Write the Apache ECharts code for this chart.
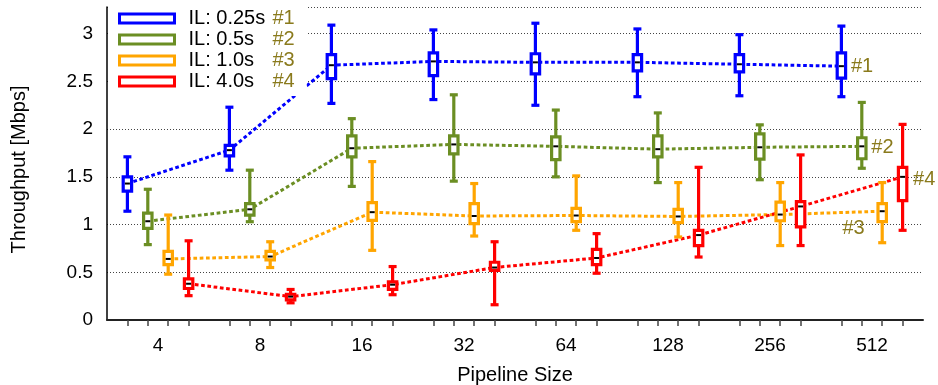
<!DOCTYPE html>
<html>
<head>
<meta charset="utf-8">
<title>Throughput vs Pipeline Size</title>
<script src="https://cdn.jsdelivr.net/npm/echarts@6/dist/echarts.min.js"></script>
<style>
  html, body { margin: 0; padding: 0; background: #fff; }
  #chart { width: 938px; height: 385px; }
</style>
</head>
<body>
<div id="chart"></div>
<script>
// Pipeline sizes on the x axis
const pipelineSizes = ['4', '8', '16', '32', '64', '128', '256', '512'];

// Throughput distribution per pipeline size: [min, q1, median, q3, max] in Mbps
const il025 = [
  [1.14, 1.35, 1.43, 1.50, 1.71],
  [1.57, 1.72, 1.78, 1.83, 2.23],
  [2.27, 2.53, 2.67, 2.78, 3.09],
  [2.31, 2.56, 2.71, 2.80, 3.04],
  [2.25, 2.58, 2.70, 2.79, 3.11],
  [2.34, 2.61, 2.70, 2.78, 3.05],
  [2.35, 2.60, 2.68, 2.78, 2.99],
  [2.34, 2.535, 2.66, 2.80, 3.08]
];
const il05 = [
  [0.79, 0.96, 1.035, 1.12, 1.37],
  [1.03, 1.10, 1.16, 1.22, 1.57],
  [1.40, 1.71, 1.80, 1.93, 2.11],
  [1.455, 1.74, 1.84, 1.93, 2.36],
  [1.50, 1.68, 1.82, 1.92, 2.20],
  [1.44, 1.71, 1.79, 1.93, 2.17],
  [1.47, 1.685, 1.81, 1.95, 2.045],
  [1.59, 1.69, 1.82, 1.91, 2.28]
];
const il10 = [
  [0.48, 0.58, 0.64, 0.72, 1.10],
  [0.55, 0.63, 0.665, 0.72, 0.82],
  [0.73, 1.045, 1.13, 1.23, 1.66],
  [0.88, 1.01, 1.09, 1.22, 1.43],
  [0.94, 1.03, 1.095, 1.17, 1.51],
  [0.87, 1.02, 1.085, 1.16, 1.44],
  [0.78, 1.04, 1.105, 1.235, 1.44],
  [0.81, 1.03, 1.14, 1.22, 1.44]
];
const il40 = [
  [0.255, 0.33, 0.38, 0.43, 0.83],
  [0.18, 0.21, 0.245, 0.27, 0.32],
  [0.265, 0.32, 0.37, 0.40, 0.56],
  [0.16, 0.52, 0.55, 0.605, 0.82],
  [0.49, 0.58, 0.65, 0.74, 0.905],
  [0.66, 0.78, 0.89, 0.94, 1.60],
  [0.78, 0.975, 1.19, 1.24, 1.73],
  [0.94, 1.25, 1.50, 1.60, 2.05]
];

// Legend names, end-of-line tags and colours for each inter-arrival setting
const seriesNames = ['IL: 0.25s', 'IL: 0.5s', 'IL: 1.0s', 'IL: 4.0s'];
const seriesTags = ['#1', '#2', '#3', '#4'];
const seriesColors = ['#0000ff', '#6b8e23', '#ffa500', '#ff0000'];
const seriesData = [il025, il05, il10, il40];

// y-axis ticks
const yTicks = [0, 0.5, 1, 1.5, 2, 2.5, 3];

const FONT = 'Liberation Sans, Arial, Helvetica, sans-serif';
const TAG_COLOR = '#8a7a1c';

// Each pipeline size owns five slots; the four settings sit in slots 1..4
const SLOTS_PER_GROUP = 5;
const slotCount = pipelineSizes.length * SLOTS_PER_GROUP;
const slotOf = (g, s) => g * SLOTS_PER_GROUP + s + 1;
const slotAxisData = [];
for (let i = 0; i <= slotCount; i++) slotAxisData.push(String(i));

function boxRenderer(color) {
  return function (params, api) {
    const x = api.value(0);
    const pMin = api.coord([x, api.value(1)]);
    const pQ1 = api.coord([x, api.value(2)]);
    const pMed = api.coord([x, api.value(3)]);
    const pQ3 = api.coord([x, api.value(4)]);
    const pMax = api.coord([x, api.value(5)]);
    const cx = pMed[0];
    const halfBox = 4.2;
    const halfCap = 4;
    const stroke = { stroke: color, lineWidth: 3.2, fill: null };
    return {
      type: 'group',
      children: [
        { type: 'line', shape: { x1: cx, y1: pMax[1], x2: cx, y2: pQ3[1] }, style: stroke },
        { type: 'line', shape: { x1: cx, y1: pQ1[1], x2: cx, y2: pMin[1] }, style: stroke },
        { type: 'line', shape: { x1: cx - halfCap, y1: pMax[1], x2: cx + halfCap, y2: pMax[1] }, style: stroke },
        { type: 'line', shape: { x1: cx - halfCap, y1: pMin[1], x2: cx + halfCap, y2: pMin[1] }, style: stroke },
        {
          type: 'rect',
          shape: { x: cx - halfBox, y: pQ3[1], width: halfBox * 2, height: pQ1[1] - pQ3[1] },
          style: { stroke: color, lineWidth: 3.2, fill: '#ffffff' }
        },
        { type: 'line', shape: { x1: cx - 2.5, y1: pMed[1], x2: cx + 2.5, y2: pMed[1] }, style: { stroke: '#000', lineWidth: 2 } }
      ]
    };
  };
}

// Tag placement beside the last median of each line
const tagLabels = [
  { position: 'right', distance: 9, offset: [0, 0] },
  { position: 'right', distance: 9, offset: [0, 1] },
  { position: 'left', distance: 17, offset: [0, 17] },
  { position: 'right', distance: 10, offset: [0, 3] }
];

const series = [];
seriesData.forEach((rows, s) => {
  const medians = rows.map((r, g) => [slotOf(g, s), r[2]]);
  series.push({
    name: seriesNames[s],
    type: 'line',
    xAxisIndex: 0,
    data: medians.map((p, i) => {
      if (i !== medians.length - 1) return p;
      return {
        value: p,
        label: {
          show: true,
          formatter: seriesTags[s],
          position: tagLabels[s].position,
          distance: tagLabels[s].distance,
          offset: tagLabels[s].offset,
          color: TAG_COLOR,
          fontSize: 20,
          fontFamily: FONT
        }
      };
    }),
    symbol: 'circle',
    symbolSize: 1,
    showSymbol: true,
    showAllSymbol: true,
    silent: true,
    z: 2,
    lineStyle: { color: seriesColors[s], width: 3, type: [3.7, 2.6] },
    itemStyle: { color: 'rgba(0,0,0,0)', borderWidth: 0 }
  });
  series.push({
    name: seriesNames[s],
    type: 'custom',
    xAxisIndex: 0,
    renderItem: boxRenderer(seriesColors[s]),
    data: rows.map((r, g) => [slotOf(g, s), r[0], r[1], r[2], r[3], r[4]]),
    encode: { x: 0, y: [1, 2, 3, 4, 5] },
    silent: true,
    z: 3
  });
});

const chart = echarts.init(document.getElementById('chart'), null, { renderer: 'canvas' });
chart.setOption({
  animation: false,
  backgroundColor: '#ffffff',
  textStyle: { fontFamily: FONT },
  grid: { left: 107, right: 15, top: 7, bottom: 65, containLabel: false, outerBoundsMode: 'none' },
  legend: {
    orient: 'vertical',
    left: 108,
    top: 3,
    padding: [5, 12, 4, 10],
    backgroundColor: '#ffffff',
    itemWidth: 55,
    itemHeight: 9,
    itemGap: 0,
    selectedMode: false,
    data: seriesNames.map((n, i) => ({
      name: n,
      icon: 'rect',
      itemStyle: { color: '#ffffff', borderColor: seriesColors[i], borderWidth: 3 }
    })),
    formatter: function (name) {
      const i = seriesNames.indexOf(name);
      return '{a|' + name + '}{b|' + seriesTags[i] + '}';
    },
    textStyle: {
      fontFamily: FONT,
      fontSize: 20,
      lineHeight: 21,
      rich: {
        a: { fontSize: 20, fontFamily: FONT, color: '#000', width: 84, padding: [0, 0, 0, 9], lineHeight: 21 },
        b: { fontSize: 20, fontFamily: FONT, color: TAG_COLOR, lineHeight: 21 }
      }
    }
  },
  xAxis: [
    {
      type: 'value',
      min: 0,
      max: slotCount,
      show: false
    },
    {
      type: 'category',
      data: slotAxisData,
      boundaryGap: false,
      position: 'bottom',
      axisLine: { show: true, lineStyle: { color: '#222', width: 2 } },
      axisTick: {
        show: true,
        length: 6,
        lineStyle: { color: '#444', width: 1.5 },
        interval: function (idx) { return idx % SLOTS_PER_GROUP !== 0; }
      },
      axisLabel: { show: false },
      splitLine: { show: false }
    },
    {
      type: 'category',
      data: pipelineSizes,
      boundaryGap: true,
      position: 'bottom',
      axisLine: { show: false },
      axisTick: { show: false },
      axisLabel: { show: true, margin: 16, fontSize: 19, color: '#000', fontFamily: FONT },
      name: 'Pipeline Size',
      nameLocation: 'middle',
      nameGap: 45,
      nameTextStyle: { fontSize: 20, color: '#000', fontFamily: FONT },
      splitLine: { show: false }
    }
  ],
  yAxis: {
    type: 'value',
    min: yTicks[0],
    max: 3.28,
    interval: 0.5,
    axisLine: { show: true, lineStyle: { color: '#000', width: 1.5 } },
    axisTick: { show: false },
    axisLabel: {
      margin: 14,
      fontSize: 19,
      color: '#000',
      fontFamily: FONT,
      formatter: function (v) { return yTicks.indexOf(v) >= 0 ? String(v) : ''; },
      showMaxLabel: false
    },
    splitLine: { show: true, lineStyle: { color: '#444', width: 1, type: [1, 2] } },
    name: 'Throughput [Mbps]',
    nameLocation: 'middle',
    nameGap: 78,
    nameTextStyle: { fontSize: 20, color: '#000', fontFamily: FONT, padding: [0, 12, 0, 0] }
  },
  series: series
});
</script>
</body>
</html>
